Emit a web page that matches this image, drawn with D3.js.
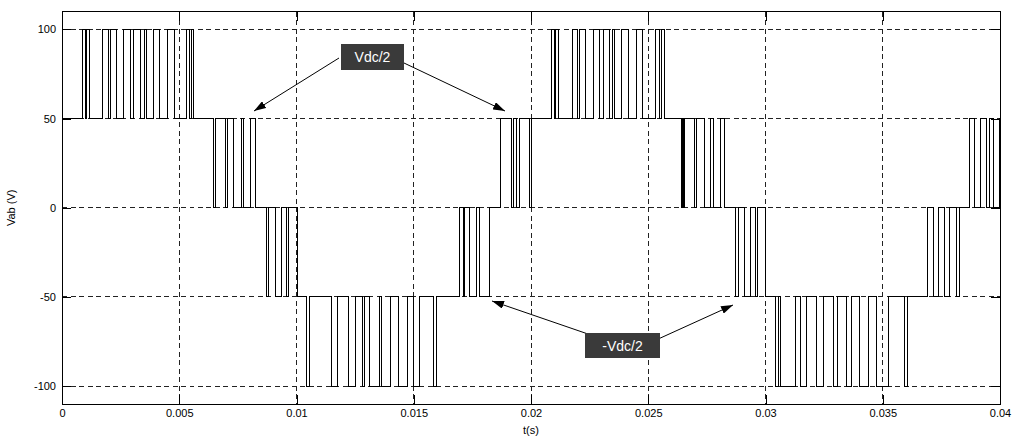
<!DOCTYPE html>
<html>
<head>
<meta charset="utf-8">
<script src="https://cdn.jsdelivr.net/npm/d3@7"></script>
<style>
  body { margin: 0; background: #fff; }
  text { font-family: "Liberation Sans", Arial, Helvetica, sans-serif; }
</style>
</head>
<body>
<svg id="chart" width="1014" height="439"></svg>
<script>
// Line-to-line voltage of a three-level inverter, two fundamental periods.
// Each band lists its switching instants (ms); the level toggles
// base -> alt -> base ... starting at the first instant.
const bandLevels = [
  [50, 100], [50, 0], [0, -50], [-50, -100], [-50, 0], [0, 50],
  [50, 100], [50, 0], [0, -50], [-50, -100], [-50, 0], [0, 50]
];
const swA1 = [0.88, 1.01, 1.06, 1.16, 1.73, 1.99, 2.06, 2.31, 2.63, 2.94, 3.05,
              3.33, 3.50, 3.59, 3.91, 4.14, 4.48, 4.80, 5.32, 5.42, 5.54, 5.61];
const swB1 = [6.47, 6.53, 6.96, 7.07, 7.33, 7.64, 7.74, 8.02, 8.24];
const swC1 = [8.73, 8.81, 9.12, 9.37, 9.59, 9.66, 10.03];
const swD1 = [10.44, 10.54, 11.48, 11.76, 12.22, 12.50, 12.81, 12.90, 13.10,
              13.52, 13.61, 13.99, 14.35, 14.74, 15.01, 15.23, 15.84, 15.98];
const swE1 = [16.95, 17.12, 17.17, 17.38, 17.66, 17.81, 18.25];
const swF1 = [18.72, 19.15, 19.25, 19.39, 19.53, 19.92, 20.02];
const swA2 = [20.88, 21.00, 21.06, 21.17, 21.77, 21.98, 22.06, 22.33, 22.66, 22.94, 23.09,
              23.33, 23.47, 23.56, 23.87, 24.15, 24.51, 24.75, 25.29, 25.50, 25.57, 25.69];
const swB2 = [26.42, 26.47, 26.51, 26.55, 26.97, 27.06, 27.39, 27.67, 27.78, 28.06, 28.24];
const swC2 = [28.70, 28.84, 29.12, 29.38, 29.58, 29.66, 30.00];
const swD2 = [30.43, 30.55, 30.66, 31.28, 31.51, 31.75, 32.18, 32.49, 32.89,
              33.07, 33.46, 33.67, 34.02, 34.41, 34.74, 35.23, 35.92, 36.04];
const swE2 = [36.91, 37.15, 37.39, 37.65, 37.84, 38.15, 38.27];
const swF2 = [38.71, 38.93, 39.18, 39.43, 39.57, 39.71, 39.99];
const bands = [swA1, swB1, swC1, swD1, swE1, swF1, swA2, swB2, swC2, swD2, swE2, swF2];

const xTicks = [0, 0.005, 0.01, 0.015, 0.02, 0.025, 0.03, 0.035, 0.04];
const xTickLabels = ["0", "0.005", "0.01", "0.015", "0.02", "0.025", "0.03", "0.035", "0.04"];
const yTicks = [-100, -50, 0, 50, 100];
const yTickLabels = ["-100", "-50", "0", "50", "100"];

// Build the step trace
const trace = [[0, 0], [0, 50]];
let level = 50;
bands.forEach((sw, i) => {
  const [base, alt] = bandLevels[i];
  sw.forEach((tms, k) => {
    const t = tms / 1000;
    trace.push([t, level]);
    level = (k % 2 === 0) ? alt : base;
    trace.push([t, level]);
  });
});
trace.push([0.04, level]);

const svg = d3.select("#chart");
const L = 62, R = 1000, T = 11.6, B = 404;
const x = d3.scaleLinear().domain([0, 0.04]).range([L, R]);
const y = d3.scaleLinear().domain([-110, 110]).range([B, T]);

// grid
const grid = svg.append("g").attr("stroke", "#222").attr("stroke-width", 1)
  .attr("stroke-dasharray", "5,3.5").attr("shape-rendering", "crispEdges");
grid.selectAll("line.gx").data(xTicks.slice(1, -1)).join("line")
  .attr("x1", d => x(d)).attr("x2", d => x(d)).attr("y1", T).attr("y2", B);
grid.selectAll("line.gy").data(yTicks).join("line")
  .attr("x1", L).attr("x2", R).attr("y1", d => y(d)).attr("y2", d => y(d));

// signal
svg.append("path").datum(trace)
  .attr("fill", "none").attr("stroke", "#000").attr("stroke-width", 1)
  .attr("shape-rendering", "crispEdges")
  .attr("d", d3.line().x(d => x(d[0])).y(d => y(d[1])));

// axes, ticks pointing inward
const tickLen = 9;
const fmtX = (d, i) => xTickLabels[i];
const fmtY = (d, i) => yTickLabels[i];
const axB = svg.append("g").attr("transform", `translate(0,${B})`)
  .call(d3.axisBottom(x).tickValues(xTicks).tickFormat(fmtX).tickSizeInner(-tickLen).tickSizeOuter(0).tickPadding(5));
const axT = svg.append("g").attr("transform", `translate(0,${T})`)
  .call(d3.axisTop(x).tickValues(xTicks).tickFormat("").tickSizeInner(-tickLen).tickSizeOuter(0));
const axL = svg.append("g").attr("transform", `translate(${L},0)`)
  .call(d3.axisLeft(y).tickValues(yTicks).tickFormat(fmtY).tickSizeInner(-tickLen).tickSizeOuter(0).tickPadding(6));
const axR = svg.append("g").attr("transform", `translate(${R},0)`)
  .call(d3.axisRight(y).tickValues(yTicks).tickFormat("").tickSizeInner(-tickLen).tickSizeOuter(0));
[axB, axT, axL, axR].forEach(g => {
  g.select(".domain").remove();
  g.selectAll("line").attr("stroke", "#000").attr("shape-rendering", "crispEdges");
  g.selectAll("text").attr("font-size", 11).attr("fill", "#000")
    .attr("font-family", "\"Liberation Sans\", Arial, sans-serif");
});
svg.append("rect").attr("x", L).attr("y", T).attr("width", R - L).attr("height", B - T)
  .attr("fill", "none").attr("stroke", "#000").attr("shape-rendering", "crispEdges");

// axis titles
svg.append("text").attr("x", (L + R) / 2).attr("y", 434).attr("text-anchor", "middle")
  .attr("font-size", 11).text("t(s)");
svg.append("text").attr("transform", `translate(15,${(T + B) / 2}) rotate(-90)`)
  .attr("text-anchor", "middle").attr("font-size", 11).text("Vab (V)");

// annotations
const defs = svg.append("defs");
defs.append("marker").attr("id", "ah").attr("viewBox", "0 0 12 8").attr("refX", 12).attr("refY", 4)
  .attr("markerWidth", 12).attr("markerHeight", 8).attr("markerUnits", "userSpaceOnUse")
  .attr("orient", "auto")
  .append("path").attr("d", "M0,0 L12,4 L0,8 Z").attr("fill", "#000");

const notes = [
  { label: "Vdc/2", bx: 341, by: 44, bw: 63, bh: 26,
    arrows: [[339, 58, 254, 111], [404, 63, 505, 111]] },
  { label: "-Vdc/2", bx: 585, by: 333, bw: 75, bh: 25,
    arrows: [[588, 334, 492, 301], [656, 340, 733, 305]] }
];
notes.forEach(n => {
  n.arrows.forEach(a => {
    svg.append("line").attr("x1", a[0]).attr("y1", a[1]).attr("x2", a[2]).attr("y2", a[3])
      .attr("stroke", "#000").attr("stroke-width", 1).attr("marker-end", "url(#ah)");
  });
  svg.append("rect").attr("x", n.bx).attr("y", n.by).attr("width", n.bw).attr("height", n.bh)
    .attr("fill", "#3a3a3a");
  svg.append("text").attr("x", n.bx + n.bw / 2).attr("y", n.by + n.bh / 2 + 5)
    .attr("text-anchor", "middle").attr("font-size", 14).attr("fill", "#fff").text(n.label);
});
</script>
</body>
</html>
